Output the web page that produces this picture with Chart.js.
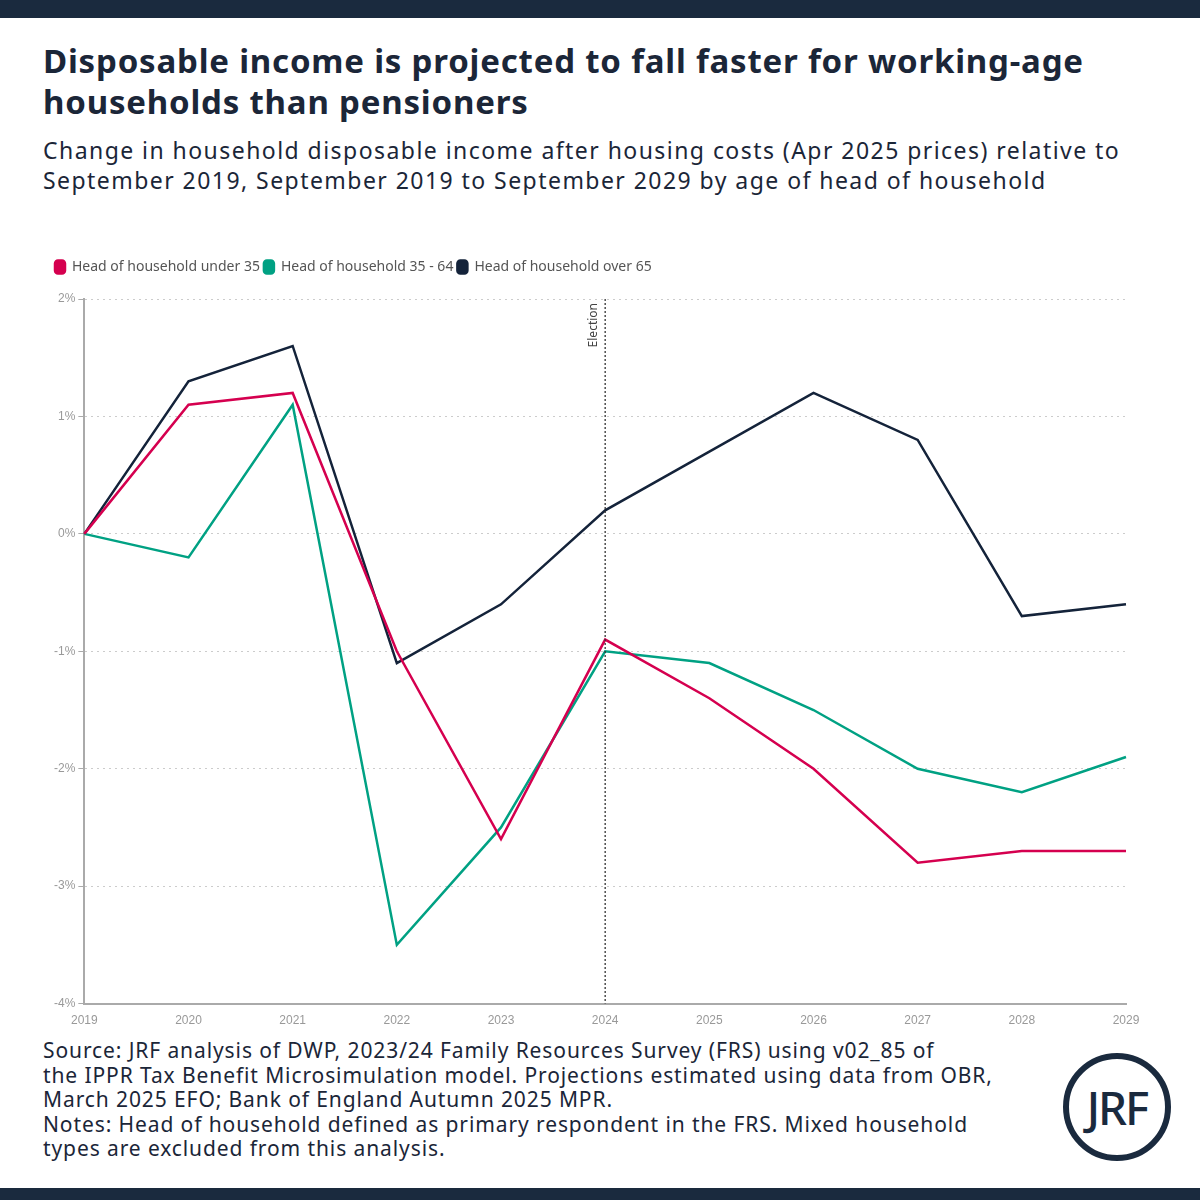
<!DOCTYPE html>
<html><head><meta charset="utf-8">
<script src="https://cdn.jsdelivr.net/npm/chart.js@4"></script>
<style>
body{margin:0;width:1200px;height:1200px;position:relative;background:#fff;font-family:"Noto Sans",Lato,sans-serif;color:#1b2638;overflow:hidden}
.bar{position:absolute;left:0;width:1200px;background:#1a2a3e}
h1{position:absolute;left:43px;top:40px;margin:0;font-size:33px;line-height:41px;font-weight:700;color:#1b2638;width:1120px;letter-spacing:0.8px}
.sub{position:absolute;left:43px;top:135px;font-size:23px;line-height:30px;white-space:nowrap;letter-spacing:1.45px}
.foot{position:absolute;left:43px;top:1038px;font-size:21px;line-height:24.5px;white-space:nowrap;letter-spacing:0.9px}
#wrap{position:absolute;left:20px;top:256px;width:1160px;height:774px}
.logo{position:absolute;left:1063px;top:1053px;width:108px;height:108px;border:6px solid #1a2a3e;border-radius:50%;box-sizing:border-box;font-size:46px;font-weight:500;text-align:center;line-height:96px;color:#1a2a3e;letter-spacing:-2px}
</style></head><body>
<div class="bar" style="top:0;height:18px"></div>
<div class="bar" style="top:1188px;height:12px"></div>
<h1>Disposable income is projected to fall faster for working-age households than pensioners</h1>
<div class="sub">Change in household disposable income after housing costs (Apr 2025 prices) relative to<br>September 2019, September 2019 to September 2029 by age of head of household</div>
<div id="wrap"><canvas id="c"></canvas></div>
<div class="foot">Source: JRF analysis of DWP, 2023/24 Family Resources Survey (FRS) using v02_85 of<br>the IPPR Tax Benefit Microsimulation model. Projections estimated using data from OBR,<br>March 2025 EFO; Bank of England Autumn 2025 MPR.<br>Notes: Head of household defined as primary respondent in the FRS. Mixed household<br>types are excluded from this analysis.</div>
<div class="logo">JRF</div>
<script>
const years=["2019","2020","2021","2022","2023","2024","2025","2026","2027","2028","2029"];
const under35=[0,1.1,1.2,-1.0,-2.6,-0.9,-1.4,-2.0,-2.8,-2.7,-2.7];
const mid=[0,-0.2,1.1,-3.5,-2.5,-1.0,-1.1,-1.5,-2.0,-2.2,-1.9];
const over65=[0,1.3,1.6,-1.1,-0.6,0.2,0.7,1.2,0.8,-0.7,-0.6];
const electionYear="2024";
const elec={id:'elec',afterDatasetsDraw(ch){const x=ch.scales.x.getPixelForValue(years.indexOf(electionYear));const {top,bottom}=ch.chartArea;const c=ch.ctx;c.save();c.strokeStyle='#333';c.lineWidth=1.3;c.setLineDash([2,2]);c.beginPath();c.moveTo(x,top);c.lineTo(x,bottom);c.stroke();c.setLineDash([]);c.translate(x-6,top+4);c.rotate(-Math.PI/2);c.fillStyle='#444';c.font='12px "Noto Sans"';c.textAlign='right';c.textBaseline='bottom';c.fillText('Election',0,0);c.restore();}};
const legendGap={id:'legendGap',beforeInit(ch){const f=ch.legend.fit;ch.legend.fit=function(){f.bind(ch.legend)();this.height+=15;};}};
new Chart(document.getElementById('c'),{type:'line',
data:{labels:years,datasets:[
{label:'Head of household under 35',data:under35,borderColor:'#d5004f',backgroundColor:'#d5004f'},
{label:'Head of household 35 - 64',data:mid,borderColor:'#00a183',backgroundColor:'#00a183'},
{label:'Head of household over 65',data:over65,borderColor:'#14233a',backgroundColor:'#14233a'}]},
options:{responsive:true,maintainAspectRatio:false,animation:false,
elements:{line:{borderWidth:2.5,tension:0},point:{radius:0}},
layout:{padding:{right:54,left:31}},
plugins:{legend:{align:'start',labels:{boxWidth:10,boxHeight:13,useBorderRadius:true,borderRadius:3,padding:4,color:'#555',font:{size:14,family:'"Noto Sans"'}}},tooltip:{enabled:false}},
scales:{x:{offset:false,grid:{display:false,drawTicks:true},border:{color:'#aaa',width:2},ticks:{color:'#999',font:{size:12},padding:2}},
y:{min:-4,max:2,ticks:{stepSize:1,color:'#999',font:{size:12},callback:v=>v+'%'},grid:{color:'#ccc',lineWidth:1,tickColor:'#aaa',tickLength:6},border:{color:'#aaa',width:2,dash:[2,4]}}}},
plugins:[elec,legendGap]});
</script></body></html>
